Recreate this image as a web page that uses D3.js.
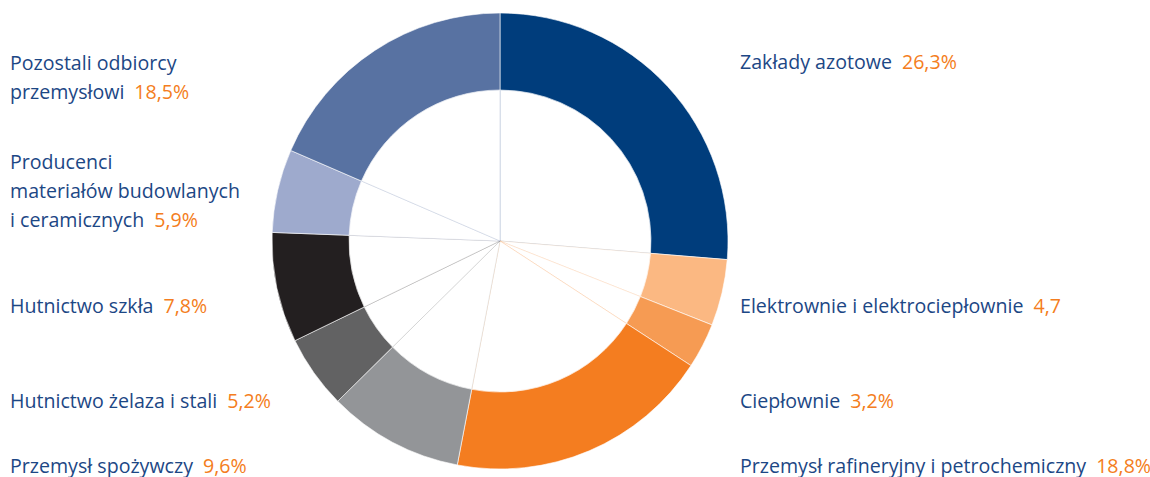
<!DOCTYPE html>
<html>
<head>
<meta charset="utf-8">
<script src="https://cdn.jsdelivr.net/npm/d3@7"></script>
<style>
  body { margin: 0; background: #fff; }
  text { font-family: "Open Sans", sans-serif; }
</style>
</head>
<body>
<div id="chart"></div>
<script>
// sectors, clockwise from 12 o'clock
var labels = [
  ["Zakłady azotowe"],
  ["Elektrownie i elektrociepłownie"],
  ["Ciepłownie"],
  ["Przemysł rafineryjny i petrochemiczny"],
  ["Przemysł spożywczy"],
  ["Hutnictwo żelaza i stali"],
  ["Hutnictwo szkła"],
  ["Producenci", "materiałów budowlanych", "i ceramicznych"],
  ["Pozostali odbiorcy", "przemysłowi"]
];
var values = [26.3, 4.7, 3.2, 18.8, 9.6, 5.2, 7.8, 5.9, 18.5];
var valueText = ["26,3%", "4,7", "3,2%", "18,8%", "9,6%", "5,2%", "7,8%", "5,9%", "18,5%"];
var colors = ["#003d7c", "#fbb882", "#f69b53", "#f47d20", "#939598", "#626263", "#231f20", "#9eaacd", "#5872a2"];
var side = ["right", "right", "right", "right", "left", "left", "left", "left", "left"];
// baseline of first line of each label
var labelY = [69, 313, 408, 473, 473, 408, 313, 169, 70];

var width = 1150, height = 477;
var cx = 500, cy = 241, rOuter = 228, rInner = 151;

var svg = d3.select("#chart").append("svg")
  .attr("width", width)
  .attr("height", height);

var pie = d3.pie().sort(null).value(d => d);
var arcs = pie(values);

var g = svg.append("g").attr("transform", "translate(" + cx + "," + cy + ")");

// faint spokes in the hole
g.selectAll("path.spoke")
  .data(arcs)
  .join("path")
  .attr("class", "spoke")
  .attr("d", d3.arc().innerRadius(0).outerRadius(rInner))
  .attr("fill", "#fff")
  .attr("stroke", (d, i) => colors[i])
  .attr("stroke-opacity", 0.2)
  .attr("stroke-width", 1);

g.selectAll("path.slice")
  .data(arcs)
  .join("path")
  .attr("class", "slice")
  .attr("d", d3.arc().innerRadius(rInner).outerRadius(rOuter))
  .attr("fill", (d, i) => colors[i])
  .attr("stroke", "#fff")
  .attr("stroke-width", 0.6);

var lineH = 29;
var lab = svg.selectAll("text.lab")
  .data(labels)
  .join("text")
  .attr("class", "lab")
  .attr("x", (d, i) => side[i] == "right" ? 740 : 10)
  .attr("y", (d, i) => labelY[i])
  .style("font-size", "19.6px");

lab.each(function(lines, i) {
  var t = d3.select(this);
  lines.forEach(function(l, j) {
    t.append("tspan")
      .attr("x", side[i] == "right" ? 740 : 10)
      .attr("dy", j == 0 ? 0 : lineH)
      .attr("fill", "#1c4785")
      .text(l);
  });
  t.append("tspan")
    .attr("dx", 10)
    .attr("fill", "#f47d20")
    .text(valueText[i]);
});
</script>
</body>
</html>
